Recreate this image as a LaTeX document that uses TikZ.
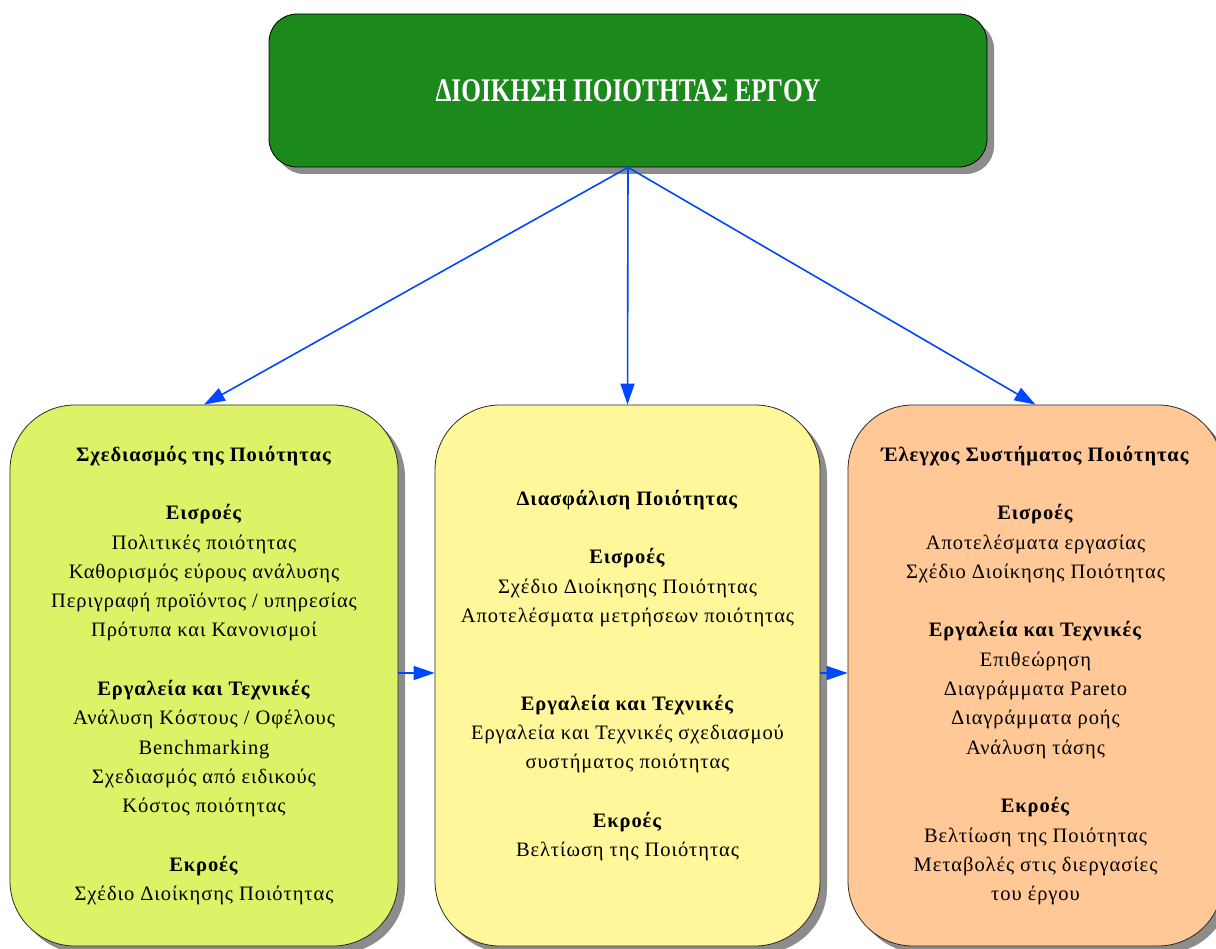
\documentclass[tikz,border=0pt]{standalone}
\usepackage{fontspec}
\setmainfont{Liberation Serif}
\newfontfamily\panelfont{Liberation Serif}[LetterSpace=4.5]
\usetikzlibrary{shadows,arrows.meta}
\definecolor{headgreen}{RGB}{27,137,27}
\definecolor{limefill}{RGB}{222,242,104}
\definecolor{paleyellow}{RGB}{255,247,153}
\definecolor{peach}{RGB}{255,200,150}
\definecolor{linkblue}{RGB}{0,72,255}
\begin{document}
\begin{tikzpicture}[x=1pt,y=-1pt,
  boxshadow/.style={drop shadow={shadow xshift=7pt,shadow yshift=-7pt,fill=black!45,opacity=1}},
  headbox/.style={draw=black,line width=0.8pt,rounded corners=28pt,fill=headgreen,
    minimum width=718pt,minimum height=153pt,inner sep=0pt,boxshadow,
    text=white,font=\fontsize{33}{36}\selectfont\bfseries},
  panel/.style={draw=black!85,line width=0.8pt,rounded corners=65pt,
    minimum height=541pt,inner sep=0pt,align=center,boxshadow,
    font=\panelfont\fontsize{20.5}{29.3}\selectfont},
  link/.style={draw=linkblue,line width=1.6pt,-{Triangle[length=21pt,width=14pt]}}]
\useasboundingbox (0,0) rectangle (1216,949);
\clip (0,0) rectangle (1216,949);

% top box
\node[headbox] (top) at (628,90.5) {\resizebox{385pt}{\height}{ΔΙΟΙΚΗΣΗ ΠΟΙΟΤΗΤΑΣ ΕΡΓΟΥ}};

% three process boxes
\node[panel,fill=limefill,minimum width=388pt] (plan) at (204,675.5) {%
\textbf{Σχεδιασμός της Ποιότητας}\\[29.3pt]
\textbf{Εισροές}\\
Πολιτικές ποιότητας\\
Καθορισμός εύρους ανάλυσης\\
Περιγραφή προϊόντος / υπηρεσίας\\
Πρότυπα και Κανονισμοί\\[29.3pt]
\textbf{Εργαλεία και Τεχνικές}\\
Ανάλυση Κόστους / Οφέλους\\
Benchmarking\\
Σχεδιασμός από ειδικούς\\
Κόστος ποιότητας\\[29.3pt]
\textbf{Εκροές}\\
Σχέδιο Διοίκησης Ποιότητας};

\node[panel,fill=paleyellow,minimum width=385pt] (assure) at (627.5,675.5) {%
\textbf{Διασφάλιση Ποιότητας}\\[29.3pt]
\textbf{Εισροές}\\
Σχέδιο Διοίκησης Ποιότητας\\
Αποτελέσματα μετρήσεων ποιότητας\\[58.6pt]
\textbf{Εργαλεία και Τεχνικές}\\
Εργαλεία και Τεχνικές σχεδιασμού\\
συστήματος ποιότητας\\[29.3pt]
\textbf{Εκροές}\\
Βελτίωση της Ποιότητας};

\node[panel,fill=peach,minimum width=375pt] (control) at (1035.5,675.5) {%
\textbf{Έλεγχος Συστήματος Ποιότητας}\\[29.3pt]
\textbf{Εισροές}\\
Αποτελέσματα εργασίας\\
Σχέδιο Διοίκησης Ποιότητας\\[29.3pt]
\textbf{Εργαλεία και Τεχνικές}\\
Επιθεώρηση\\
Διαγράμματα Pareto\\
Διαγράμματα ροής\\
Ανάλυση τάσης\\[29.3pt]
\textbf{Εκροές}\\
Βελτίωση της Ποιότητας\\
Μεταβολές στις διεργασίες\\
του έργου};

% connectors
\draw[link] (top.south) -- (plan.north);
\draw[link] (top.south) -- (assure.north);
\draw[link] (top.south) -- (control.north);
\draw[link] ([yshift=2.5pt]plan.east) -- ([yshift=2.5pt]assure.west);
\draw[link] ([yshift=2.5pt]assure.east) -- ([yshift=2.5pt]control.west);
\end{tikzpicture}
\end{document}
